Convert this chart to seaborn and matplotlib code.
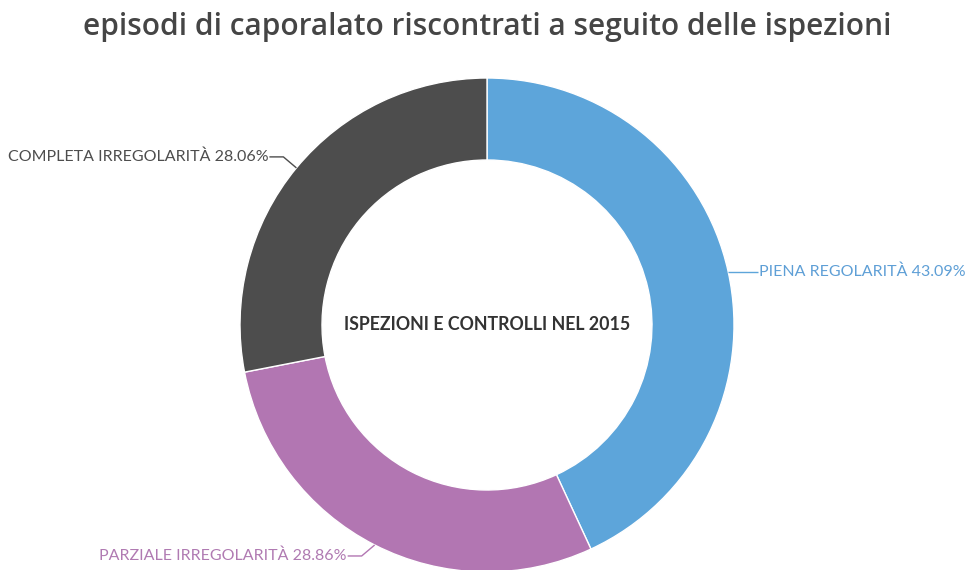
import numpy as np
import matplotlib
matplotlib.use("Agg")
import matplotlib.pyplot as plt
import seaborn as sns

# Data
categories = ["PIENA REGOLARITÀ", "PARZIALE IRREGOLARITÀ", "COMPLETA IRREGOLARITÀ"]
values = [43.09, 28.86, 28.06]
colors = ["#5DA5DA", "#B276B2", "#4D4D4D"]
title = "episodi di caporalato riscontrati a seguito delle ispezioni"
center_label = "ISPEZIONI E CONTROLLI NEL 2015"

sns.set_theme(style="white")
plt.rcParams['font.family'] = ['Lato', 'DejaVu Sans']

W, H = 968, 570
fig = plt.figure(figsize=(W / 100, H / 100), dpi=100)
ax = fig.add_axes([0, 0, 1, 1])

cx, cy = 487, H - 325
R = 247
ring = 82

wedges, _ = ax.pie(values, colors=colors, startangle=90, counterclock=False,
                   radius=R, center=(cx, cy),
                   wedgeprops=dict(width=ring, edgecolor="white", linewidth=1))

ax.set_xlim(0, W)
ax.set_ylim(0, H)
ax.set_aspect("equal")
ax.axis("off")

label_colors = ["#5E9FD6", "#B07AB2", "#4D4D4D"]
for w, lab, val, col, tcol in zip(wedges, categories, values, colors, label_colors):
    mid = np.deg2rad((w.theta1 + w.theta2) / 2)
    x0 = cx + R * np.cos(mid)
    y0 = cy + R * np.sin(mid)
    right = np.cos(mid) >= 0
    sgn = 1 if right else -1
    dy_e = 0 if abs(np.sin(mid)) < 0.3 else 11 * np.sign(np.sin(mid))
    x1 = x0 + sgn * (0 if dy_e == 0 else 13)
    y1 = y0 + dy_e
    x2 = x1 + sgn * (30 if dy_e == 0 else 14)
    ax.plot([x0, x1, x2], [y0, y1, y1], color=col, lw=1, solid_capstyle="butt")
    ax.text(x2 + sgn * 1, y1, f"{lab} {val:.2f}%", color=tcol, fontsize=11.5,
            ha="left" if right else "right", va="center")

ax.text(cx, cy, center_label, fontsize=12.8, fontweight="bold", color="#333333",
        ha="center", va="center")

fig.text(487 / W, 1 - 27 / H, title, fontsize=21.5, fontweight="semibold",
         color="#454545", ha="center", va="center",
         family=["Open Sans", "DejaVu Sans"])

fig.savefig("out.png", dpi=100, facecolor="white")
